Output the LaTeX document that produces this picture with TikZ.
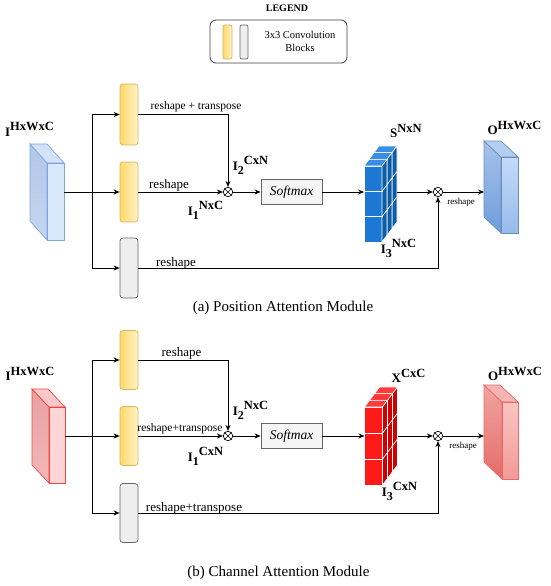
\documentclass[tikz,border=0pt]{standalone}
\usepackage{fontspec}
\setmainfont{Liberation Serif}
\usetikzlibrary{arrows.meta,calc}

\definecolor{ylwTop}{HTML}{FFD966}
\definecolor{ylwBot}{HTML}{FFF2CC}
\definecolor{ylwStroke}{HTML}{D6B656}
\definecolor{gryFill}{HTML}{EEEEEE}
\definecolor{gryStroke}{HTML}{666666}
\definecolor{smFill}{HTML}{F5F5F5}
\definecolor{bluStroke}{HTML}{7EA6E0}
\definecolor{bluStrokeB}{HTML}{6C8EBF}
\definecolor{redStroke}{HTML}{F04545}
\definecolor{redStrokeB}{HTML}{E86A66}
\definecolor{cubeBF}{HTML}{1C78D2}
\definecolor{cubeBT}{HTML}{3A8EE2}
\definecolor{cubeBS}{HTML}{0B5DA6}
\definecolor{cubeRF}{HTML}{FF1A1A}
\definecolor{cubeRT}{HTML}{FF3B3B}
\definecolor{cubeRS}{HTML}{D10000}

\newcommand{\supx}[1]{\raisebox{0.42em}{\fontsize{12.5}{12.5}\selectfont\bfseries #1}}
\newcommand{\subx}[1]{\raisebox{-0.3em}{\fontsize{12}{12}\selectfont\bfseries #1}}

% #1 x0, #2 y0 (front top-left), #3 cell height, #4 front, #5 top, #6 side
\newcommand{\cubestack}[6]{%
  \foreach \k in {2,1,0}{%
    \foreach \r in {2,1,0}{%
      \pgfmathsetmacro\X{#1+5*\k}%
      \pgfmathsetmacro\Y{#2+\r*#3-6.67*\k}%
      \filldraw[white, line width=0.6pt, fill=#4] (\X,\Y) rectangle ++(18,#3);
      \filldraw[white, line width=0.6pt, fill=#5] (\X,\Y) -- ++(18,0) -- ++(5,-6.67) -- ++(-18,0) -- cycle;
      \filldraw[white, line width=0.6pt, fill=#6] (\X+18,\Y) -- ++(5,-6.67) -- ++(0,#3) -- ++(-5,6.67) -- cycle;
    }%
  }%
}

% #1 x1 #2 y1 #3 x2 #4 y2 (front face) #5 dx #6 dy, #7 left style, #8 top style, #9 front style
\newcommand{\prismshape}[9]{%
  \path[#7] (#1+#5,#2+#6) -- (#1,#2) -- (#1,#4) -- (#1+#5,#4+#6) -- cycle;
  \path[#8] (#1+#5,#2+#6) -- (#3+#5,#2+#6) -- (#3,#2) -- (#1,#2) -- cycle;
  \path[#9] (#1,#2) rectangle (#3,#4);
}

\tikzset{
  x=1pt, y=-1pt,
  arr/.style={-{Stealth[length=6pt,width=5pt]}, line width=0.8pt},
  conn/.style={line width=0.8pt},
  ylwblock/.style={rectangle, rounded corners=3pt, draw=ylwStroke, line width=0.7pt,
     left color=ylwTop, right color=ylwBot, minimum width=18pt, minimum height=60pt, inner sep=0pt},
  grayblock/.style={rectangle, rounded corners=3pt, draw=gryStroke, line width=0.7pt,
     fill=gryFill, minimum width=18pt, minimum height=60pt, inner sep=0pt},
  smbox/.style={rectangle, draw=gryStroke, line width=0.7pt, fill=smFill,
     minimum width=61pt, minimum height=25pt, inner sep=0pt,
     font=\fontsize{13.5}{13.5}\selectfont\itshape},
  mul/.style={circle, draw, line width=0.7pt, minimum size=9.5pt, inner sep=0pt,
     path picture={\draw[line width=0.6pt] (path picture bounding box.north west) -- (path picture bounding box.south east)
       (path picture bounding box.north east) -- (path picture bounding box.south west);}},
  lbl/.style={inner sep=0pt, font=\fontsize{13}{13}\selectfont\bfseries},
  edgetxt/.style={inner sep=0pt, font=\fontsize{13}{13}\selectfont},
  edgetxtsm/.style={inner sep=0pt, font=\fontsize{11.5}{11.5}\selectfont},
  tinytxt/.style={inner sep=0pt, font=\fontsize{9}{9}\selectfont},
  captxt/.style={inner sep=0pt, font=\fontsize{15}{15}\selectfont},
}

\begin{document}
\begin{tikzpicture}
\path[use as bounding box, fill=white] (0,0) rectangle (550,586);

% ---------------- Legend ----------------
\node[inner sep=0pt, font=\fontsize{10}{10}\selectfont\bfseries] (lgtitle) at (287,8.5) {LEGEND};
\node[rectangle, rounded corners=6pt, draw=black!75, line width=0.8pt, minimum width=137pt, minimum height=43pt, inner sep=0pt] (lgbox) at (278.5,41.5) {};
\node[ylwblock, minimum width=9pt, minimum height=34pt, rounded corners=2pt] (lgy) at (227.5,42) {};
\node[grayblock, minimum width=8pt, minimum height=34pt, rounded corners=2pt] (lgg) at (244,42) {};
\node[inner sep=0pt, align=center, font=\fontsize{10.5}{13}\selectfont] (lgtxt) at (300,41) {3x3 Convolution\\Blocks};

% ---------------- Module (a) ----------------
\prismshape{47}{163}{64}{240}{-17}{-19}%
  {draw=bluStroke, line width=0.7pt, top color={rgb,255:red,176;green,199;blue,230}, bottom color={rgb,255:red,196;green,214;blue,240}}%
  {draw=bluStroke, line width=0.7pt, fill={rgb,255:red,210;green,226;blue,248}}%
  {draw=bluStroke, line width=0.7pt, fill={rgb,255:red,218;green,232;blue,252}}
\coordinate (inA) at (64,192);
\coordinate (splitA) at (92,192);

\node[ylwblock, minimum height=61pt] (yA1) at (129,114.5) {};
\node[ylwblock] (yA2) at (129,192) {};
\node[grayblock] (gA) at (129,268) {};

\node[mul] (mulA1) at (228,192) {};
\node[smbox] (smA) at (291.5,192) {Softmax};
\cubestack{364}{166}{25.3}{cubeBF}{cubeBT}{cubeBS}
\coordinate (cubeAin) at (364,192);
\coordinate (cubeAout) at (397,192);
\node[mul] (mulA2) at (438,192) {};

\prismshape{501}{157}{518}{233}{-17}{-16}%
  {draw=bluStrokeB, line width=0.7pt, top color={rgb,255:red,166;green,194;blue,234}, bottom color={rgb,255:red,110;green,158;blue,220}}%
  {draw=bluStrokeB, line width=0.7pt, fill={rgb,255:red,180;green,206;blue,242}}%
  {draw=bluStrokeB, line width=0.7pt, top color={rgb,255:red,196;green,218;blue,248}, bottom color={rgb,255:red,150;green,188;blue,236}}
\coordinate (outA) at (484,192);

\draw[conn] (inA) -- (splitA);
\draw[arr] (splitA) -- (yA2.west);
\draw[arr] (splitA) |- (yA1.west);
\draw[arr] (splitA) |- (gA.west);
\draw[arr] (yA1.east) -| (mulA1.north);
\draw[arr] (yA2.east) -- (mulA1.west);
\draw[arr] (mulA1.east) -- (smA.west);
\draw[arr] (smA.east) -- (cubeAin);
\draw[arr] (cubeAout) -- (mulA2.west);
\draw[arr] (mulA2.east) -- (outA);
\draw[arr] (gA.east) -| (mulA2.south);

\node[edgetxtsm] (tA1) at (196,107) {reshape + transpose};
\node[edgetxt] (tA2) at (169,185) {reshape};
\node[edgetxt] (tA3) at (176,263) {reshape};
\node[tinytxt] (tA4) at (461,202) {reshape};

\node[lbl] (lIA) at (29.5,129.5) {I\supx{HxWxC}};
\node[lbl] (lI1A) at (205.5,210.5) {I\subx{1}\supx{NxC}};
\node[lbl] (lI2A) at (250.5,165.5) {I\subx{2}\supx{CxN}};
\node[lbl] (lSA) at (406,131) {S\supx{NxN}};
\node[lbl] (lI3A) at (398.5,248.5) {I\subx{3}\supx{NxC}};
\node[lbl] (lOA) at (514.5,128) {O\supx{HxWxC}};

\node[captxt] (capA) at (283,307.5) {(a) Position Attention Module};

% ---------------- Module (b) ----------------
\prismshape{49}{407}{65}{483}{-17}{-18}%
  {draw=redStroke, line width=0.7pt, top color={rgb,255:red,232;green,160;blue,160}, bottom color={rgb,255:red,242;green,184;blue,184}}%
  {draw=redStroke, line width=0.7pt, fill={rgb,255:red,250;green,200;blue,200}}%
  {draw=redStroke, line width=0.7pt, fill={rgb,255:red,255;green,214;blue,214}}
\coordinate (inB) at (65,436);
\coordinate (splitB) at (92,436);

\node[ylwblock, minimum height=59pt] (yB1) at (129,360) {};
\node[ylwblock, minimum height=59pt] (yB2) at (129,436) {};
\node[grayblock, minimum height=59pt] (gB) at (129,513) {};

\node[mul] (mulB1) at (228,436) {};
\node[smbox] (smB) at (291.5,436) {Softmax};
\cubestack{364.5}{407}{26}{cubeRF}{cubeRT}{cubeRS}
\coordinate (cubeBin) at (364.5,436);
\coordinate (cubeBout) at (397.5,436);
\node[mul] (mulB2) at (438,436) {};

\prismshape{502}{402}{518}{479}{-18}{-17}%
  {draw=redStrokeB, line width=0.7pt, top color={rgb,255:red,242;green,164;blue,162}, bottom color={rgb,255:red,228;green,108;blue,105}}%
  {draw=redStrokeB, line width=0.7pt, fill={rgb,255:red,245;green,181;blue,179}}%
  {draw=redStrokeB, line width=0.7pt, top color={rgb,255:red,251;green,196;blue,194}, bottom color={rgb,255:red,242;green,154;blue,151}}
\coordinate (outB) at (484,436);

\draw[conn] (inB) -- (splitB);
\draw[arr] (splitB) -- (yB2.west);
\draw[arr] (splitB) |- (yB1.west);
\draw[arr] (splitB) |- (gB.west);
\draw[arr] (yB1.east) -| (mulB1.north);
\draw[arr] (yB2.east) -- (mulB1.west);
\draw[arr] (mulB1.east) -- (smB.west);
\draw[arr] (smB.east) -- (cubeBin);
\draw[arr] (cubeBout) -- (mulB2.west);
\draw[arr] (mulB2.east) -- (outB);
\draw[arr] (gB.east) -| (mulB2.south);

\node[edgetxt] (tB1) at (181.5,353) {reshape};
\node[edgetxtsm] (tB2) at (180,429) {reshape+transpose};
\node[edgetxt] (tB3) at (194,508) {reshape+transpose};
\node[tinytxt] (tB4) at (463,446) {reshape};

\node[lbl] (lIB) at (30,374) {I\supx{HxWxC}};
\node[lbl] (lI1B) at (205.5,456.5) {I\subx{1}\supx{CxN}};
\node[lbl] (lI2B) at (250.5,410.5) {I\subx{2}\supx{NxC}};
\node[lbl] (lXB) at (408.5,376) {X\supx{CxC}};
\node[lbl] (lI3B) at (399.5,491.5) {I\subx{3}\supx{CxN}};
\node[lbl] (lOB) at (515,374) {O\supx{HxWxC}};

\node[captxt] (capB) at (278.5,573) {(b) Channel Attention Module};
\end{tikzpicture}
\end{document}
